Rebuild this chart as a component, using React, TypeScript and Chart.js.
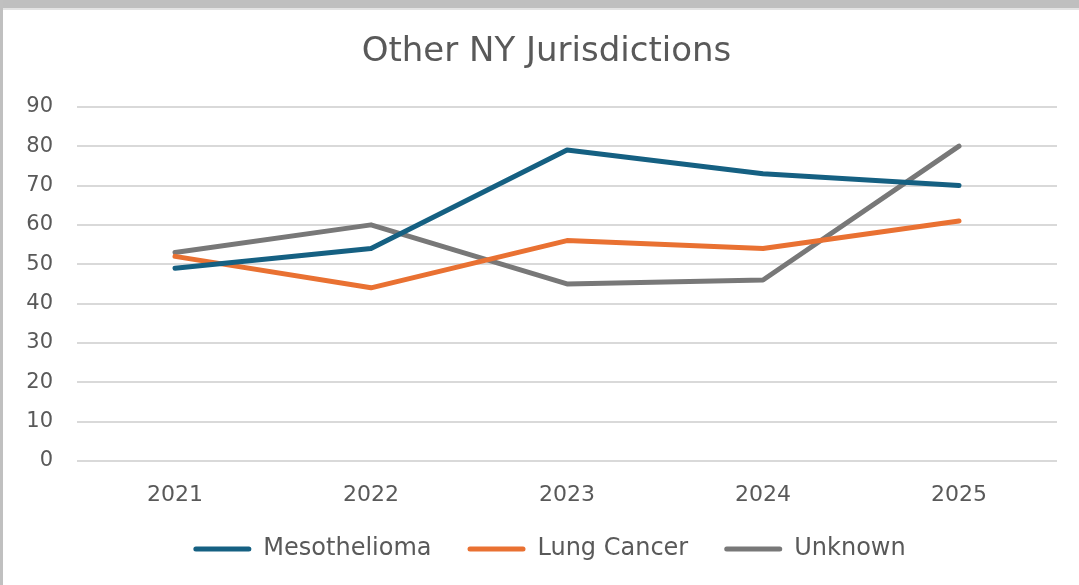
import React, { useEffect, useRef } from "react";
import { Chart, registerables } from "chart.js";

Chart.register(...registerables);

const TITLE = "Other NY Jurisdictions";
const YEARS = ["2021", "2022", "2023", "2024", "2025"];
const MESOTHELIOMA = [49, 54, 79, 73, 70];
const LUNG_CANCER = [52, 44, 56, 54, 61];
const UNKNOWN = [53, 60, 45, 46, 80];
const SERIES_NAMES = ["Mesothelioma", "Lung Cancer", "Unknown"];
const SERIES_COLORS = ["#156082", "#E97132", "#787878"];
const Y_MIN = 0;
const Y_MAX = 90;
const Y_STEP = 10;

const W = 1079;
const H = 585;
const FONT = "'DejaVu Sans', sans-serif";
const TEXT_COLOR = "#595959";
const TITLE_SHIFT_X = 15;
const LEGEND_SHIFT_X = 18;

const blockShift = {
  id: "blockShift",
  afterLayout(chart: any) {
    const t = chart.titleBlock;
    if (t) {
      t.left += TITLE_SHIFT_X;
      t.right += TITLE_SHIFT_X;
    }
    const l = chart.legend;
    if (l) {
      l.left += LEGEND_SHIFT_X;
      l.right += LEGEND_SHIFT_X;
    }
  },
};

export default function App() {
  const ref = useRef<HTMLCanvasElement | null>(null);

  useEffect(() => {
    if (!ref.current) return;
    const values = [MESOTHELIOMA, LUNG_CANCER, UNKNOWN];
    const chart = new Chart(ref.current, {
      type: "line",
      data: {
        labels: YEARS,
        datasets: values.map((v, i) => ({
          label: SERIES_NAMES[i],
          data: v,
          borderColor: SERIES_COLORS[i],
          backgroundColor: SERIES_COLORS[i],
          borderWidth: 5,
          pointRadius: 0,
          pointHoverRadius: 0,
          tension: 0,
          borderCapStyle: "round" as const,
          borderJoinStyle: "round" as const,
          fill: false,
        })),
      },
      plugins: [blockShift],
      options: {
        responsive: false,
        animation: false,
        devicePixelRatio: 1,
        layout: { padding: { left: 6, right: 22, top: 0, bottom: 14 } },
        plugins: {
          tooltip: { enabled: false },
          title: {
            display: true,
            text: TITLE,
            color: TEXT_COLOR,
            font: { family: FONT, size: 34, weight: "normal", lineHeight: 1.2 },
            padding: { top: 32, bottom: 34 },
          },
          legend: {
            position: "bottom",
            labels: {
              color: TEXT_COLOR,
              font: { family: FONT, size: 24, lineHeight: 1.2 },
              boxWidth: 58,
              boxHeight: 5,
              padding: 36,
              generateLabels: (c) =>
                c.data.datasets.map((ds, i) => ({
                  text: ds.label as string,
                  fillStyle: SERIES_COLORS[i],
                  strokeStyle: SERIES_COLORS[i],
                  lineWidth: 0,
                  borderRadius: 2.5,
                  hidden: false,
                  datasetIndex: i,
                  fontColor: TEXT_COLOR,
                })),
            },
          },
        },
        scales: {
          x: {
            offset: true,
            grid: { display: false, drawTicks: false },
            border: { display: false },
            ticks: {
              color: TEXT_COLOR,
              font: { family: FONT, size: 22, lineHeight: 1.2 },
              padding: 21,
            },
            afterFit: (scale) => {
              scale.height = 40;
            },
          },
          y: {
            min: Y_MIN,
            max: Y_MAX,
            grid: { color: "#d9d9d9", lineWidth: 2, drawTicks: false },
            border: { display: false },
            ticks: {
              stepSize: Y_STEP,
              color: TEXT_COLOR,
              font: { family: FONT, size: 21, lineHeight: 1.2 },
              padding: 24,
            },
            afterFit: (scale) => {
              scale.width = 71;
            },
          },
        },
      },
    });
    return () => chart.destroy();
  }, []);

  return (
    <div
      style={{
        position: "fixed",
        left: 0,
        top: 0,
        width: W,
        height: H,
        background: "#ffffff",
        overflow: "hidden",
      }}
    >
      <div style={{ position: "absolute", left: 0, top: 0, width: W, height: 8, background: "#bfbfbf" }} />
      <div style={{ position: "absolute", left: 0, top: 8, width: W, height: 2, background: "#e3e3e3" }} />
      <div style={{ position: "absolute", left: 0, top: 0, width: 3, height: H, background: "#c0c0c0" }} />
      <canvas
        ref={ref}
        width={W}
        height={H}
        style={{ position: "absolute", left: 0, top: 0, width: W, height: H }}
      />
    </div>
  );
}
